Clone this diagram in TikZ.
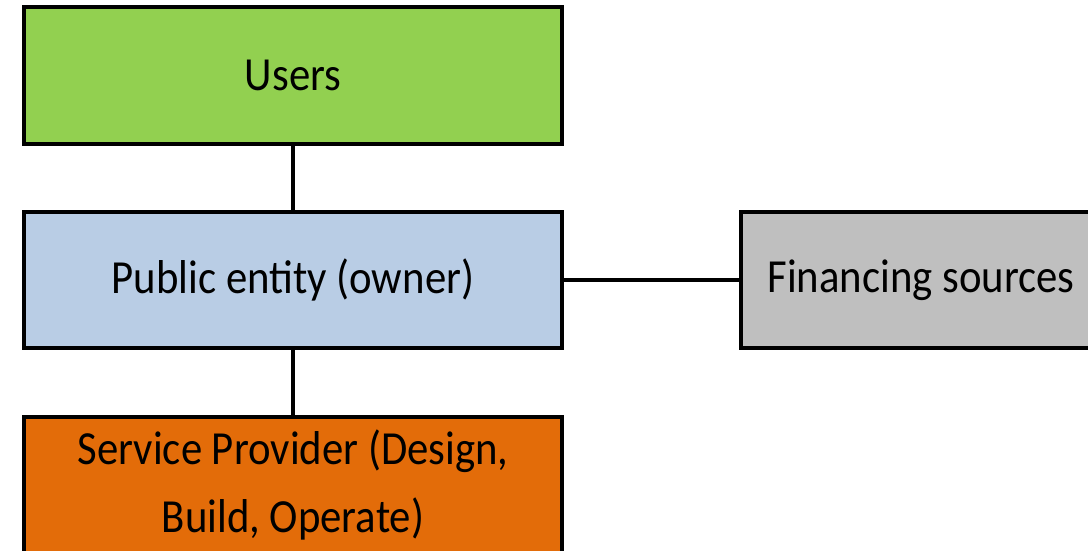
\documentclass[tikz,border=0pt]{standalone}
\usepackage{fontspec}
\setmainfont{Carlito}
\newfontfamily\labelfont[FakeStretch=0.9]{Carlito}
\definecolor{usergreen}{HTML}{92D050}
\definecolor{ownerblue}{HTML}{B9CDE5}
\definecolor{provorange}{HTML}{E36C09}
\definecolor{fingray}{HTML}{BFBFBF}
\tikzset{
  box/.style={draw=black, line width=4pt, inner sep=0pt, minimum height=136pt,
    align=center, font=\labelfont\fontsize{47.5}{68}\selectfont},
  link/.style={draw=black, line width=4pt}
}
\begin{document}
\begin{tikzpicture}[x=1pt, y=-1pt]
\useasboundingbox (0,0) rectangle (1088,551);
\clip (0,0) rectangle (1088,551);
\node[box, fill=usergreen, minimum width=538pt, minimum height=137pt] (users) at (293,75.5) {Users};
\node[box, fill=ownerblue, minimum width=538pt] (owner) at (293,280) {Public entity (owner)};
\node[box, fill=provorange, minimum width=538pt] (provider) at (293,485) {Service Provider (Design,\\Build, Operate)};
\node[box, fill=fingray, minimum width=360pt] (finance) at (921,280) {Financing sources};
\draw[link] (users) -- (owner);
\draw[link] (owner) -- (provider);
\draw[link] (owner) -- (finance);
\end{tikzpicture}
\end{document}
